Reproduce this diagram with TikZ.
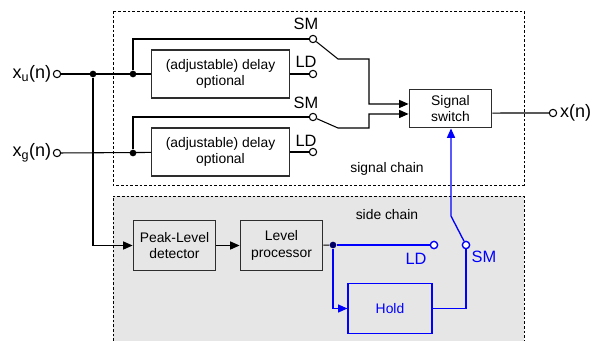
\documentclass[tikz,border=0pt]{standalone}
\usepackage{fontspec}
\setmainfont{Liberation Sans}
\usetikzlibrary{positioning, arrows.meta}
\definecolor{sidegray}{RGB}{230,230,230}
\definecolor{boxline}{RGB}{45,45,45}

\begin{document}
\begin{tikzpicture}[x=0.75pt,y=-0.75pt,
  box/.style={draw=boxline, line width=0.9pt, align=center, inner sep=1pt,
    font=\fontsize{10.4}{12.5}\selectfont},
  term/.style={circle, draw, line width=0.8pt, fill=white, inner sep=0pt, minimum size=5.5pt},
  dot/.style={circle, fill, inner sep=0pt, minimum size=5pt},
  lbl/.style={font=\fontsize{12.3}{14}\selectfont, inner sep=0pt},
  io/.style={font=\fontsize{13.5}{15}\selectfont, inner sep=1pt},
  chain/.style={dash pattern=on 2pt off 1.5pt, line width=0.6pt},
  sig/.style={line width=0.8pt},
  ctl/.style={line width=1pt, blue},
  >={Triangle[length=7pt,width=6pt]}]
\useasboundingbox (0,0) rectangle (594,340);

% chain frames
\draw[chain] (113,11) rectangle (524,185);
\fill[sidegray] (113,196) rectangle (524,341);
\draw[chain] (113,341) -- (113,196) -- (524,196) -- (524,341);
\node[font=\fontsize{10.4}{12.5}\selectfont] (sigtxt) at (387,169) {signal chain};
\node[font=\fontsize{10.4}{12.5}\selectfont] (sidetxt) at (387,215) {side chain};

% blocks
\node[box, minimum width=103pt, minimum height=36pt] (delayu) at (220.5,74) {(adjustable) delay\\optional};
\node[box, minimum width=103pt, minimum height=36pt] (delayg) at (220.5,152) {(adjustable) delay\\optional};
\node[box, fill=white, minimum width=62pt, minimum height=29pt] (switch) at (450.5,108.5) {Signal\\switch};
\node[box, minimum width=62pt, minimum height=37pt] (peak) at (174.5,245.5) {Peak-Level\\detector};
\node[box, minimum width=62pt, minimum height=37pt] (level) at (281.5,245.5) {Level\\processor};
\node[box, draw=blue, text=blue, minimum width=63pt, minimum height=37pt] (hold) at (390,308.5) {Hold};

% terminals and junctions
\node[term] (inu) at (57,74) {};
\node[term] (ing) at (57,153) {};
\node[term] (smu) at (313,39) {};
\node[term] (ldu) at (313,74) {};
\node[term] (smg) at (313,117) {};
\node[term] (ldg) at (313,152) {};
\node[term] (out) at (553,113) {};
\node[term, draw=blue, line width=1pt] (ldside) at (434,245) {};
\node[term, draw=blue, line width=1pt] (smside) at (466,245) {};
\node[dot] (ju) at (93,74) {};
\node[dot] (du) at (133,74) {};
\node[dot] (dg) at (133,153) {};
\node[dot, fill=blue!40!black] (ds) at (333,245) {};
\coordinate (ku) at (338,59);
\coordinate (kg) at (338,128);
\coordinate (ks) at (451,216);

% labels
\node[io, left=0pt of inu] (xu) {x\textsubscript{u}(n)};
\node[io, left=0pt of ing] (xg) {x\textsubscript{g}(n)};
\node[io, right=1pt of out] (xn) {x(n)};
\node[lbl] (smulbl) at (306,24) {SM};
\node[lbl] (ldulbl) at (306,62) {LD};
\node[lbl] (smglbl) at (306,103) {SM};
\node[lbl] (ldglbl) at (306,141) {LD};
\node[lbl, text=blue] (ldslbl) at (416,259) {LD};
\node[lbl, text=blue] (smslbl) at (484,257) {SM};

% signal chain
\draw[sig] (inu) -- (delayu);
\draw[sig] (ing) -- (delayg);
\draw[sig] (du) |- (smu);
\draw[sig] (dg) |- (smg);
\draw[sig] (delayu) -- (ldu);
\draw[sig] (delayg) -- (ldg);
\draw[sig,->] (smu) -- (ku) -- ++(31,0) |- ([yshift=3.4pt]switch.west);
\draw[sig,->] (smg) -- (kg) -- ++(31,0) |- ([yshift=-4.1pt]switch.west);
\draw[sig] ([yshift=-3.4pt]switch.east) -- (out);

% side chain
\draw[sig,->] (ju) |- (peak);
\draw[sig,->] (peak) -- (level);
\draw[sig] (level) -- (ds);
\draw[ctl] (ds) -- (ldside);
\draw[ctl,->] (ds) |- (hold);
\draw[ctl] (hold) -| (smside);
\draw[ctl,->] (smside) -- (ks) -- (ks |- switch.south);
\end{tikzpicture}
\end{document}
